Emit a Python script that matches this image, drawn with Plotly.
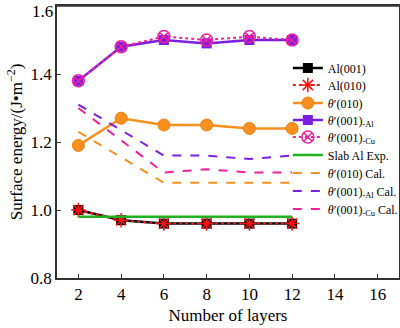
import plotly.graph_objects as go

# Number of atomic layers in the slab
layers = [2, 4, 6, 8, 10, 12]

# Surface energies, J/m^2
al_001 = [1.00, 0.97, 0.96, 0.96, 0.96, 0.96]
al_010 = [1.00, 0.97, 0.96, 0.96, 0.96, 0.96]
theta_010 = [1.19, 1.27, 1.25, 1.25, 1.24, 1.24]
theta_001_al = [1.38, 1.48, 1.50, 1.49, 1.50, 1.50]
theta_001_cu = [1.38, 1.48, 1.51, 1.50, 1.51, 1.50]
slab_al_exp = [0.98, 0.98, 0.98, 0.98, 0.98, 0.98]
theta_010_cal = [1.23, 1.155, 1.08, 1.08, 1.08, 1.08]
theta_001_al_cal = [1.31, 1.235, 1.16, 1.16, 1.15, 1.16]
theta_001_cu_cal = [1.30, 1.205, 1.11, 1.12, 1.11, 1.11]

x_ticks = [2, 4, 6, 8, 10, 12, 14, 16]
y_ticks = [0.8, 1.0, 1.2, 1.4, 1.6]

FONT = "Times New Roman, Liberation Serif, serif"
TH = "<i>θ</i>′"

traces = [
    dict(y=al_001, name="Al(001)", mode="lines+markers",
         line=dict(color="black", width=2.5),
         marker=dict(symbol="square", size=10, color="black")),
    dict(y=al_010, name="Al(010)", mode="lines+markers",
         line=dict(color="#ff1010", width=2, dash="dot"),
         marker=dict(symbol="asterisk-open", size=12, color="#ff1010",
                     line=dict(color="#ff1010", width=1.5))),
    dict(y=theta_010, name=TH + "(010)", mode="lines+markers",
         line=dict(color="#f7901e", width=2.5),
         marker=dict(symbol="circle", size=12, color="#f7901e",
                     line=dict(color="#f08010", width=1))),
    dict(y=theta_001_al, name=TH + "(001)<sub>-Al</sub>", mode="lines+markers",
         line=dict(color="#7a1ee0", width=2.5),
         marker=dict(symbol="square", size=10, color="#7a1ee0")),
    dict(y=theta_001_cu, name=TH + "(001)<sub>-Cu</sub>", mode="lines+markers",
         line=dict(color="#f0209a", width=2, dash="dot"),
         marker=dict(symbol="circle-x-open", size=12, color="#f0209a",
                     line=dict(color="#f0209a", width=1.5))),
    dict(y=slab_al_exp, name="Slab Al Exp.", mode="lines",
         line=dict(color="#22b022", width=2.5)),
    dict(y=theta_010_cal, name=TH + "(010) Cal.", mode="lines",
         line=dict(color="#f7901e", width=2, dash="dash")),
    dict(y=theta_001_al_cal, name=TH + "(001)<sub>-Al</sub> Cal.", mode="lines",
         line=dict(color="#7a1ee0", width=2, dash="dash")),
    dict(y=theta_001_cu_cal, name=TH + "(001)<sub>-Cu</sub> Cal.", mode="lines",
         line=dict(color="#f0209a", width=2, dash="dash")),
]

fig = go.Figure()

# Plot area: left 57, right 399, top 6, bottom 278 (pixels)
PLOT_TOP, PLOT_BOTTOM = 6, 278
row_px = [68, 85, 103, 120, 137, 155, 173, 191, 209]

# Each series gets its own legend box so the rows can be stacked tightly
layout_legends = {}
for i, (tr, ypx) in enumerate(zip(traces, row_px)):
    key = "legend" if i == 0 else f"legend{i + 1}"
    fig.add_trace(go.Scatter(x=layers, legend=key, **tr))
    layout_legends[key] = dict(
        x=0.675, y=(PLOT_BOTTOM - ypx) / (PLOT_BOTTOM - PLOT_TOP),
        xanchor="left", yanchor="middle",
        bgcolor="rgba(0,0,0,0)", borderwidth=0,
        font=dict(family=FONT, size=12, color="black"),
        itemwidth=30,
    )

axis_common = dict(
    showline=True, linecolor="#333333", linewidth=1.5, mirror=True,
    ticks="inside", ticklen=4, tickcolor="#333333", showgrid=False, zeroline=False,
    tickfont=dict(family=FONT, size=17, color="black"),
)

# the top y tick label sits just under the frame corner
y_label_vals = [v for v in y_ticks if v < max(y_ticks)]
top_label = f"{max(y_ticks):.1f}"

fig.update_layout(
    width=400, height=328,
    margin=dict(l=57, r=1, t=PLOT_TOP, b=328 - PLOT_BOTTOM, autoexpand=False),
    paper_bgcolor="white", plot_bgcolor="white",
    font=dict(family=FONT, color="black"),
    xaxis=dict(range=[1, 17], tickvals=x_ticks,
               title=dict(text="Number of layers", font=dict(family=FONT, size=17), standoff=6),
               **axis_common),
    yaxis=dict(range=[0.8, 1.6], tickvals=y_ticks,
               ticktext=[f"{v:.1f}" if v in y_label_vals else "" for v in y_ticks],
               title=dict(text="Surface energy/(J•m<sup>−2</sup>)", font=dict(family=FONT, size=17), standoff=4),
               **axis_common),
    annotations=[dict(
        text=top_label, xref="paper", yref="y", x=0, y=max(y_ticks),
        xanchor="right", yanchor="top", xshift=-2, yshift=6, showarrow=False,
        font=dict(family=FONT, size=17, color="black"))],
    shapes=[dict(type="line", xref="paper", yref="paper", x0=0, x1=1, y0=1, y1=1,
                 line=dict(color="#333333", width=1.5))],
    showlegend=True,
    **layout_legends,
)

fig.write_html("out.html")
